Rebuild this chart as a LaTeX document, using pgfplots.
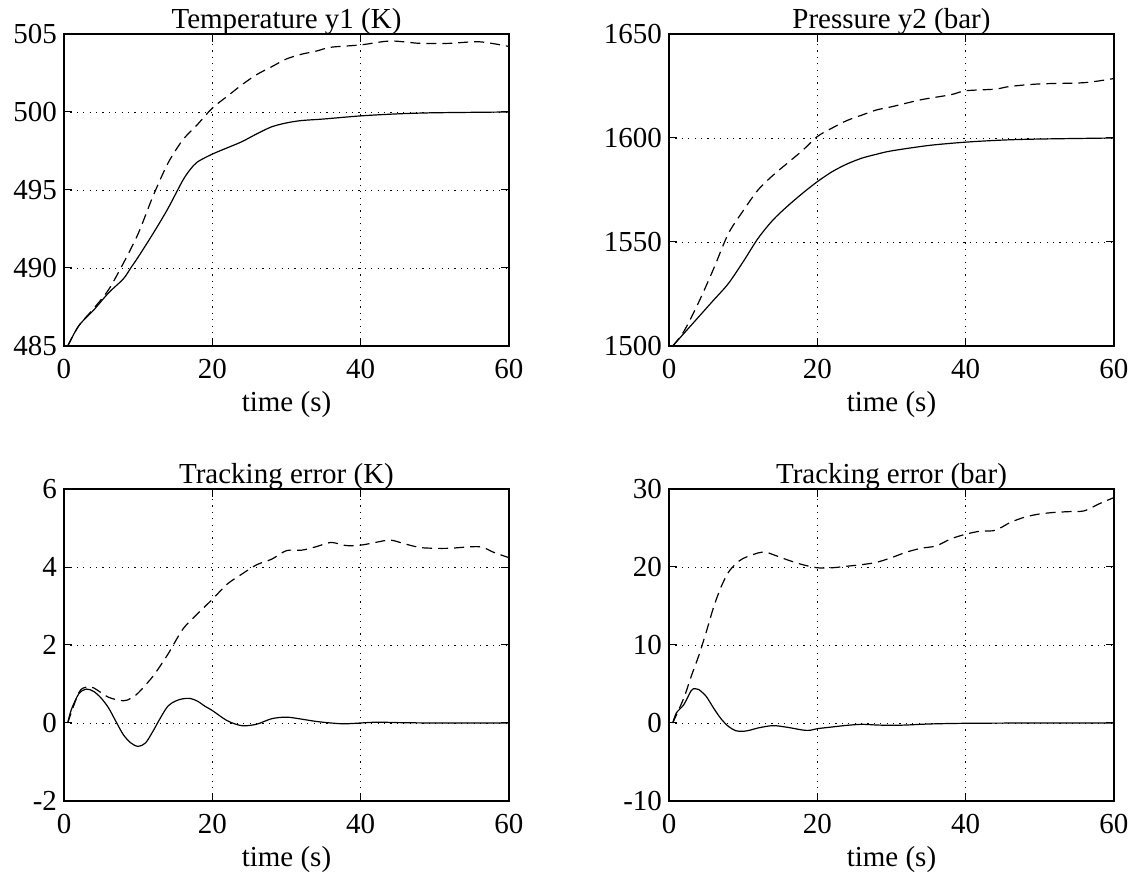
\documentclass[border=0pt]{standalone}
\usepackage{fontspec}
\setmainfont{Liberation Serif}
\usepackage{pgfplots}
\pgfplotsset{compat=1.18}

\pgfplotsset{
  mplot/.style={
    scale only axis,
    width=222.5pt, height=156pt,
    anchor=south west,
    xmin=0, xmax=60,
    xtick={0,20,40,60},
    tick align=inside,
    xtick pos=both, ytick pos=both,
    major tick length=4pt,
    tick style={black, line width=0.5pt},
    axis line style={line width=0.6pt},
    grid=major,
    major grid style={black, line width=0.45pt, dash pattern=on 0.6pt off 2.6pt},
    font=\fontsize{14.5}{17}\selectfont,
    /pgf/number format/assume math mode=true,
    /pgf/number format/1000 sep={},
    xticklabel style={anchor=north, yshift=-3.2pt},
    xlabel={time (s)},
    xlabel style={at={(axis description cs:0.5,0)}, anchor=center, yshift=-29.5pt},
    every axis title/.style={at={(axis description cs:0.5,1)}, anchor=base, yshift=2.7pt, inner sep=0pt},
  },
  sol/.style={black, line width=0.6pt, smooth, tension=0.5},
  dsh/.style={black, line width=0.6pt, dash pattern=on 5pt off 3pt, smooth, tension=0.5},
}

\begin{document}
\begin{tikzpicture}
\path[use as bounding box] (0,0) rectangle (568.5pt,444pt);

% Temperature
\begin{axis}[mplot, at={(32pt,271pt)}, ymin=485, ymax=505,
    ytick={485,490,495,500,505}, title={Temperature y1 (K)}]
\addplot[sol] coordinates {
 (0.5,485) (2,486.3) (4,487.3) (6,488.4) (8,489.3) (9,490.0) (10,490.7)
 (12,492.2) (14,493.8) (16,495.6) (17,496.3) (18,496.8) (20,497.3)
 (22,497.7) (24,498.1) (26,498.6) (28,499.05) (30,499.3) (32,499.45)
 (35,499.55) (40,499.75) (45,499.88) (50,499.95) (60,500.0)
};
\addplot[dsh] coordinates {
 (0.5,485) (2,486.3) (4,487.4) (6,488.6) (8,490.3) (10,492.2) (12,494.6)
 (14,496.7) (16,498.2) (18,499.2) (20,500.25) (22,501.0) (24,501.75)
 (26,502.4) (28,502.9) (30,503.4) (32,503.7) (34,503.9) (36,504.15)
 (40,504.3) (44,504.55) (48,504.4) (52,504.4) (56,504.5) (60,504.2)
};
\end{axis}

% Pressure
\begin{axis}[mplot, at={(334.5pt,271pt)}, ymin=1500, ymax=1650,
    ytick={1500,1550,1600,1650}, title={Pressure y2 (bar)}]
\addplot[sol] coordinates {
 (0.5,1500) (2,1506) (4,1514) (6,1522) (8,1530) (10,1540.5) (12,1551.7)
 (14,1560.5) (16,1567.3) (18,1573.4) (20,1579) (22,1583.8) (24,1587.5)
 (26,1590.3) (28,1592.2) (30,1593.8) (35,1596.4) (40,1598) (45,1599)
 (50,1599.5) (60,1600)
};
\addplot[dsh] coordinates {
 (0.5,1500) (2,1507) (4,1521) (6,1537) (8,1554) (10,1565) (12,1575)
 (14,1582) (16,1588) (18,1594) (20,1600.7) (22,1604.8) (24,1608.4)
 (26,1611) (28,1613.5) (30,1615) (34,1618.4) (38,1620.8) (40,1622.7)
 (44,1623.5) (46,1624.8) (50,1626) (56,1626.6) (60,1628.6)
};
\end{axis}

% Tracking error K
\begin{axis}[mplot, at={(32pt,43.5pt)}, ymin=-2, ymax=6,
    ytick={-2,0,2,4,6}, title={Tracking error (K)}]
\addplot[sol] coordinates {
 (0.5,0) (1,0.35) (2,0.75) (3,0.87) (4,0.81) (5,0.64) (6,0.39) (7,0.04)
 (8,-0.30) (9,-0.51) (10,-0.60) (11,-0.51) (12,-0.21) (13,0.13) (14,0.43)
 (15,0.56) (16,0.62) (17,0.63) (18,0.56) (19,0.43) (20,0.32) (22,0.06)
 (24,-0.07) (26,-0.03) (28,0.11) (30,0.15) (32,0.10) (34,0.04) (36,0.0)
 (38,-0.02) (42,0.02) (45,0.01) (50,0) (60,0)
};
\addplot[dsh] coordinates {
 (0.5,0) (2,0.78) (3,0.92) (4,0.9) (6,0.66) (8,0.57) (9,0.63) (10,0.77)
 (12,1.2) (14,1.76) (16,2.4) (18,2.8) (20,3.17) (22,3.56) (24,3.82)
 (26,4.06) (28,4.2) (30,4.42) (32,4.43) (34,4.52) (36,4.63) (38,4.55)
 (40,4.56) (42,4.63) (44,4.69) (46,4.59) (48,4.5) (50,4.48) (52,4.48)
 (56,4.52) (58,4.37) (60,4.24)
};
\end{axis}

% Tracking error bar
\begin{axis}[mplot, at={(334.5pt,43.5pt)}, ymin=-10, ymax=30,
    ytick={-10,0,10,20,30}, title={Tracking error (bar)}]
\addplot[sol] coordinates {
 (0.5,0) (1,1.3) (2,2.36) (3,4.16) (3.5,4.4) (4,4.3) (5,3.43) (6,1.93)
 (7,0.56) (8,-0.43) (9,-0.99) (10,-1.07) (11,-0.9) (12,-0.64) (14,-0.34)
 (16,-0.56) (18,-0.9) (19,-0.94) (20,-0.73) (22,-0.51) (24,-0.3)
 (26,-0.17) (28,-0.26) (30,-0.3) (32,-0.26) (35,-0.13) (40,-0.04)
 (50,0) (60,0)
};
\addplot[dsh] coordinates {
 (0.5,0) (2,3.2) (3,6.0) (4,8.6) (5,11.6) (6,14.8) (7,17.4) (8,19.3)
 (9,20.4) (10,21.1) (12,21.8) (13,21.9) (14,21.6) (16,20.9) (18,20.3)
 (20,19.9) (22,19.9) (24,20.1) (26,20.3) (28,20.6) (30,21.2) (32,21.9)
 (34,22.4) (36,22.7) (38,23.6) (40,24.2) (42,24.6) (44,24.7) (46,25.7)
 (48,26.4) (50,26.8) (52,27.0) (54,27.1) (56,27.2) (58,28.1) (60,28.9)
};
\end{axis}
\end{tikzpicture}
\end{document}
